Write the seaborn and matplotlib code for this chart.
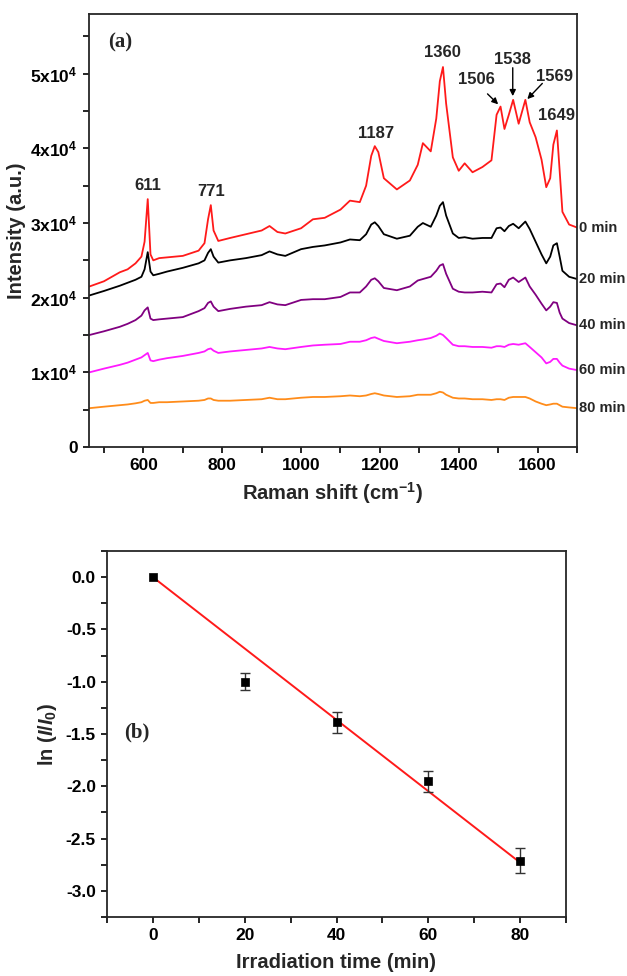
import numpy as np
import pandas as pd
import matplotlib
matplotlib.use("Agg")
import matplotlib.pyplot as plt
from matplotlib.ticker import MultipleLocator, FixedLocator
import seaborn as sns

# ---------------- Panel (a): SERS spectra vs irradiation time ----------------
shift = [463, 500, 540, 560, 580, 595, 603, 611, 618, 625, 640, 660, 700, 740,
         755, 764, 771, 778, 790, 820, 860, 900, 920, 940, 960, 1000, 1030,
         1060, 1100, 1124, 1149, 1165, 1178, 1187, 1196, 1210, 1243, 1276,
         1296, 1309, 1329, 1343, 1352, 1360, 1368, 1385, 1400, 1415, 1435,
         1460, 1483, 1496, 1506, 1516, 1527, 1538, 1552, 1569, 1580, 1595,
         1610, 1622, 1632, 1640, 1649, 1656, 1663, 1680, 1700]

int_0min = [21500, 22200, 23400, 23800, 24600, 25500, 27500, 33200, 25800, 25000,
            25300, 25400, 25600, 26300, 27300, 30500, 32400, 29000, 27600, 28000,
            28500, 29000, 29600, 28800, 28600, 29300, 30500, 30700, 31800, 33000,
            32800, 35000, 39000, 40300, 39500, 36000, 34500, 35700, 37800, 40700,
            39600, 44000, 49000, 50900, 46000, 38800, 37000, 38000, 36800, 37500,
            38400, 44500, 45600, 42600, 44500, 46500, 43300, 46500, 43500, 41500,
            38500, 34800, 36000, 40500, 42400, 37000, 31500, 29800, 29400]

int_20min = [20300, 20900, 21600, 22000, 22400, 22800, 23800, 26100, 23500, 23000,
             23200, 23500, 24000, 24600, 25000, 26000, 26500, 25500, 24700, 25000,
             25300, 25700, 26200, 25800, 25600, 26500, 26800, 27000, 27400, 27800,
             27700, 28500, 29800, 30100, 29600, 28500, 27900, 28300, 29500, 30000,
             29500, 31000, 32300, 32800, 31000, 28600, 28000, 28100, 27900, 28000,
             28000, 29300, 29400, 28900, 29600, 29900, 29300, 30200, 29200, 27500,
             25800, 24600, 25500, 27000, 27300, 25500, 23600, 22800, 22500]

int_40min = [15000, 15500, 16100, 16500, 17000, 17600, 18300, 18700, 17200, 17000,
             17100, 17200, 17400, 18200, 18600, 19300, 19500, 18800, 18200, 18500,
             18800, 19000, 19400, 19100, 19000, 19700, 19800, 19800, 20100, 20700,
             20700, 21500, 22400, 22600, 22200, 21300, 21000, 21500, 22300, 22500,
             22800, 23600, 24300, 24500, 23200, 21200, 20800, 20700, 20700, 20800,
             20700, 21800, 21900, 21400, 22400, 22700, 22100, 22700, 21500, 20400,
             19200, 18300, 18800, 19400, 19300, 18000, 17200, 16600, 16300]

int_60min = [10000, 10500, 11000, 11300, 11700, 12000, 12300, 12600, 11600, 11500,
             11700, 11900, 12200, 12600, 12800, 13100, 13200, 12900, 12600, 12800,
             13000, 13200, 13400, 13200, 13100, 13400, 13600, 13700, 13800, 14100,
             14100, 14300, 14600, 14700, 14500, 14200, 13900, 14100, 14300, 14400,
             14600, 14900, 15200, 15000, 14600, 13700, 13500, 13500, 13400, 13400,
             13300, 13500, 13500, 13400, 13700, 13800, 13700, 13900, 13400, 12700,
             12000, 11200, 11400, 11800, 11800, 11300, 10900, 10500, 10300]

int_80min = [5200, 5400, 5600, 5700, 5850, 6000, 6200, 6300, 5900, 5900,
             6000, 6000, 6100, 6200, 6300, 6500, 6500, 6300, 6200, 6200,
             6300, 6400, 6600, 6400, 6400, 6600, 6700, 6700, 6800, 6900,
             6800, 6900, 7100, 7200, 7100, 6900, 6700, 6800, 7000, 7000,
             7000, 7200, 7400, 7300, 7000, 6600, 6500, 6500, 6400, 6400,
             6300, 6400, 6400, 6300, 6600, 6700, 6700, 6700, 6500, 6100,
             5800, 5600, 5700, 5800, 5800, 5600, 5400, 5300, 5200]

spectra = {"0 min": int_0min, "20 min": int_20min, "40 min": int_40min,
           "60 min": int_60min, "80 min": int_80min}
spec_colors = {"0 min": "#ff1a1a", "20 min": "#000000", "40 min": "#800080",
               "60 min": "#ff1aff", "80 min": "#ff8c1a"}

# peak labels: (text, x, y) in data units; arrows: (tail, head)
peak_labels = [("611", 611, 35000), ("771", 771, 34200), ("1187", 1190, 42000),
               ("1360", 1359, 52800), ("1506", 1446, 49200), ("1538", 1537, 51900),
               ("1569", 1643, 49600), ("1649", 1648, 44400)]
peak_arrows = [((1473, 47300), (1500, 45900)),
               ((1537, 50800), (1537, 47000)),
               ((1612, 48700), (1574, 46600))]

# ---------------- Panel (b): kinetics ----------------
time_min = [0, 20, 40, 60, 80]
ln_ratio = [0.0, -1.00, -1.39, -1.95, -2.71]
ln_err = [0.0, 0.08, 0.10, 0.10, 0.12]

# ---------------- Styling ----------------
sns.set_style("ticks")
plt.rcParams["font.family"] = ["Liberation Sans", "DejaVu Sans"]
plt.rcParams["font.weight"] = "bold"
plt.rcParams["mathtext.fontset"] = "custom"
plt.rcParams["mathtext.rm"] = "Liberation Sans:bold"
plt.rcParams["mathtext.bf"] = "Liberation Sans:bold"
plt.rcParams["mathtext.it"] = "Liberation Sans:bold:italic"
plt.rcParams["axes.linewidth"] = 1.3
for k in ("xtick", "ytick"):
    plt.rcParams[f"{k}.direction"] = "out"
    plt.rcParams[f"{k}.major.size"] = 4.5
    plt.rcParams[f"{k}.minor.size"] = 4.0
    plt.rcParams[f"{k}.major.width"] = 1.2
    plt.rcParams[f"{k}.minor.width"] = 1.2
    plt.rcParams[f"{k}.color"] = "black"
    plt.rcParams[f"{k}.labelsize"] = 12.5

fig = plt.figure(figsize=(6.27, 9.76), dpi=100)
ax1 = fig.add_axes([89 / 627, 1 - 447 / 976, (577 - 89) / 627, (447 - 14) / 976])
ax2 = fig.add_axes([107 / 627, 1 - 917 / 976, (566 - 107) / 627, (917 - 551) / 976])

# Panel (a)
long = pd.DataFrame([(s, x, y) for s, vals in spectra.items() for x, y in zip(shift, vals)],
                    columns=["series", "shift", "intensity"])
sns.lineplot(data=long, x="shift", y="intensity", hue="series", palette=spec_colors,
             linewidth=1.3, legend=False, ax=ax1, sort=True, estimator=None)
ax1.set_xlim(462, 1700)
ax1.set_ylim(0, 58000)
ax1.xaxis.set_major_locator(FixedLocator([600, 800, 1000, 1200, 1400, 1600]))
ax1.xaxis.set_minor_locator(FixedLocator([500, 700, 900, 1100, 1300, 1500, 1700]))
ax1.yaxis.set_major_locator(MultipleLocator(10000))
ax1.yaxis.set_minor_locator(MultipleLocator(5000))
ax1.set_yticks([0, 10000, 20000, 30000, 40000, 50000])
ax1.set_yticklabels(["0", r"1x10$^{4}$", r"2x10$^{4}$", r"3x10$^{4}$",
                     r"4x10$^{4}$", r"5x10$^{4}$"])
ax1.set_xlabel(r"Raman shift (cm$^{-1}$)", fontsize=14.5, fontweight="bold", labelpad=5)
ax1.set_ylabel("Intensity (a.u.)", fontsize=14.5, fontweight="bold", labelpad=3)
for side in ("top", "right"):
    ax1.spines[side].set_visible(True)
for lab in ax1.get_xticklabels() + ax1.get_yticklabels():
    lab.set_fontweight("bold")

for name, vals in spectra.items():
    ax1.annotate(name, xy=(shift[-1], vals[-1]), xytext=(1.5, 0),
                 textcoords="offset points", fontsize=10.5, fontweight="bold",
                 ha="left", va="center", annotation_clip=False)
for txt, x, y in peak_labels:
    ax1.text(x, y, txt, fontsize=12, fontweight="bold", ha="center", va="center")
for tail, head in peak_arrows:
    ax1.annotate("", xy=head, xytext=tail,
                 arrowprops=dict(arrowstyle="-|>", color="black", lw=1.0,
                                 mutation_scale=9, shrinkA=0, shrinkB=0))
ax1.text(0.064, 0.935, "(a)", transform=ax1.transAxes, fontsize=15, fontweight="bold",
         family="Liberation Serif", ha="center", va="center")

# Panel (b)
slope = np.sum(np.array(time_min) * np.array(ln_ratio)) / np.sum(np.array(time_min) ** 2.0)
fit = pd.DataFrame({"t": [time_min[0], time_min[-1]],
                    "y": [slope * time_min[0], slope * time_min[-1]]})
sns.lineplot(data=fit, x="t", y="y", color="#ff1a1a", linewidth=1.4, ax=ax2)
ax2.errorbar(time_min[1:], ln_ratio[1:], yerr=ln_err[1:], fmt="none", ecolor="#333333",
             elinewidth=1.0, capsize=3.5, capthick=1.0, zorder=3)
pts = pd.DataFrame({"t": time_min, "y": ln_ratio})
sns.scatterplot(data=pts, x="t", y="y", marker="s", s=38, color="black",
                edgecolor="black", linewidth=0.5, ax=ax2, zorder=4)
ax2.set_xlim(-10, 90)
ax2.set_ylim(-3.25, 0.25)
ax2.xaxis.set_major_locator(FixedLocator([0, 20, 40, 60, 80]))
ax2.xaxis.set_minor_locator(FixedLocator([-10, 10, 30, 50, 70, 90]))
ax2.yaxis.set_major_locator(FixedLocator([0.0, -0.5, -1.0, -1.5, -2.0, -2.5, -3.0]))
ax2.yaxis.set_minor_locator(FixedLocator([0.25, -0.25, -0.75, -1.25, -1.75, -2.25, -2.75, -3.25]))
ax2.yaxis.set_major_formatter(matplotlib.ticker.FormatStrFormatter("%.1f"))
ax2.set_xlabel("Irradiation time (min)", fontsize=14.5, fontweight="bold", labelpad=7)
ax2.set_ylabel(r"ln ($\mathit{I/I}_{0}$)", fontsize=14.5, fontweight="bold", labelpad=5)
for side in ("top", "right"):
    ax2.spines[side].set_visible(True)
for lab in ax2.get_xticklabels() + ax2.get_yticklabels():
    lab.set_fontweight("bold")
ax2.text(0.065, 0.505, "(b)", transform=ax2.transAxes, fontsize=15, fontweight="bold",
         family="Liberation Serif", ha="center", va="center")

fig.savefig("out.png", dpi=100)
